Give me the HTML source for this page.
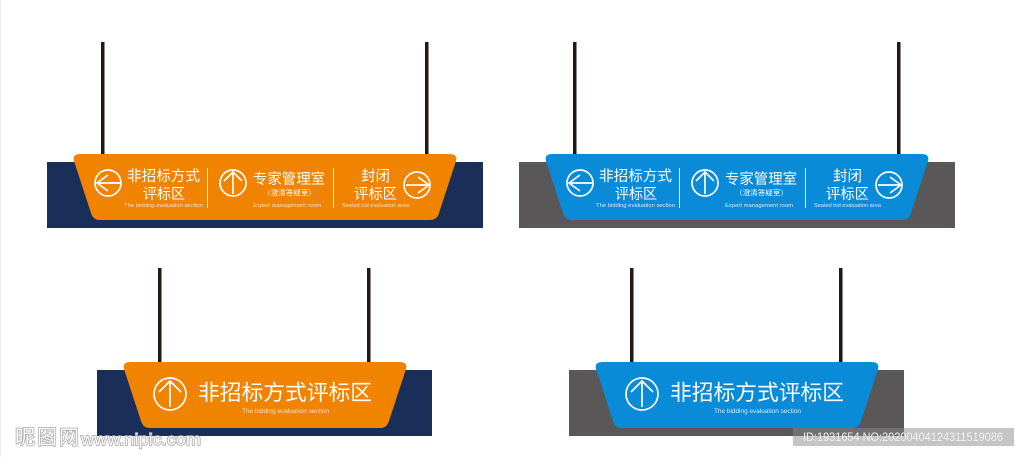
<!DOCTYPE html>
<html><head><meta charset="utf-8"><style>
html,body{margin:0;padding:0;background:#fff}
svg{display:block}
text{font-family:"Liberation Sans","Noto Sans CJK SC",sans-serif;fill:#fff}
.cn{font-family:"Noto Sans CJK SC","WenQuanYi Zen Hei",sans-serif;font-weight:400}
.en{fill:#fbe3c4}
.ic{fill:none;stroke:#fff;stroke-width:1.7}
.dv{stroke:#fff;stroke-width:1;opacity:.9}
</style></head><body>
<svg width="1024" height="457" viewBox="0 0 1024 457" xmlns="http://www.w3.org/2000/svg">
<rect x="0" y="0" width="1024" height="457" fill="#fff"/>
<rect x="0" y="0" width="1" height="457" fill="#ececec"/>

<!-- Sign 1 -->
<g>
<rect x="101" y="42" width="3.500" height="113" fill="#231815"/><rect x="425" y="42" width="3.500" height="113" fill="#231815"/>
<rect x="47" y="162" width="436" height="66" fill="#1a2e5a"/>
<path d="M81 154H449Q458 154 456 161L439 213Q437 220 430 220H100Q93 220 91 213L74 161Q72 154 81 154Z" fill="#f08300"/>
<circle class="ic" cx="108" cy="183" r="13"/><path class="ic" d="M97 183H120M108 175L97 183L108 191"/>
<text class="cn" x="127" y="181" font-size="14.500" textLength="73" lengthAdjust="spacingAndGlyphs">非招标方式</text>
<text class="cn" x="143" y="199" font-size="14.500" textLength="42" lengthAdjust="spacingAndGlyphs">评标区</text>
<text class="en" x="124" y="207" font-size="5" textLength="79" lengthAdjust="spacingAndGlyphs">The bidding evaluation section</text>
<line class="dv" x1="207.500" y1="168" x2="207.500" y2="208"/>
<circle class="ic" cx="233" cy="183" r="13"/><path class="ic" d="M233 194V172M224 181L233 172L242 181"/>
<text class="cn" x="253" y="184" font-size="14.500" textLength="72" lengthAdjust="spacingAndGlyphs">专家管理室</text>
<text class="cn" x="263" y="195" font-size="7" textLength="53" lengthAdjust="spacingAndGlyphs">（澄清答疑室）</text>
<text class="en" x="253" y="207" font-size="5" textLength="68" lengthAdjust="spacingAndGlyphs">Expert management room</text>
<line class="dv" x1="333.500" y1="168" x2="333.500" y2="208"/>
<text class="cn" x="361" y="181" font-size="14.500" textLength="29" lengthAdjust="spacingAndGlyphs">封闭</text>
<text class="cn" x="354" y="199" font-size="14.500" textLength="43" lengthAdjust="spacingAndGlyphs">评标区</text>
<text class="en" x="342" y="207" font-size="5" textLength="67" lengthAdjust="spacingAndGlyphs">Sealed bid evaluation area</text>
<circle class="ic" cx="417" cy="185" r="13"/><path class="ic" d="M406 185H429M418 177L429 185L418 193"/>
</g>

<!-- Sign 2 -->
<g>
<rect x="573" y="42" width="3.500" height="113" fill="#231815"/><rect x="897" y="42" width="3.500" height="113" fill="#231815"/>
<rect x="519" y="162" width="436" height="66" fill="#595757"/>
<path d="M553 154H921Q930 154 928 161L911 213Q909 220 902 220H572Q565 220 563 213L546 161Q544 154 553 154Z" fill="#0a8bd8"/>
<circle class="ic" cx="580" cy="183" r="13"/><path class="ic" d="M569 183H592M580 175L569 183L580 191"/>
<text class="cn" x="599" y="181" font-size="14.500" textLength="73" lengthAdjust="spacingAndGlyphs">非招标方式</text>
<text class="cn" x="615" y="199" font-size="14.500" textLength="42" lengthAdjust="spacingAndGlyphs">评标区</text>
<text x="596" y="207" font-size="5" style="fill:#d5ecfa" textLength="79" lengthAdjust="spacingAndGlyphs">The bidding evaluation section</text>
<line class="dv" x1="679.500" y1="168" x2="679.500" y2="208"/>
<circle class="ic" cx="705" cy="183" r="13"/><path class="ic" d="M705 194V172M696 181L705 172L714 181"/>
<text class="cn" x="725" y="184" font-size="14.500" textLength="72" lengthAdjust="spacingAndGlyphs">专家管理室</text>
<text class="cn" x="735" y="195" font-size="7" textLength="53" lengthAdjust="spacingAndGlyphs">（澄清答疑室）</text>
<text x="725" y="207" font-size="5" style="fill:#d5ecfa" textLength="68" lengthAdjust="spacingAndGlyphs">Expert management room</text>
<line class="dv" x1="805.500" y1="168" x2="805.500" y2="208"/>
<text class="cn" x="833" y="181" font-size="14.500" textLength="29" lengthAdjust="spacingAndGlyphs">封闭</text>
<text class="cn" x="826" y="199" font-size="14.500" textLength="43" lengthAdjust="spacingAndGlyphs">评标区</text>
<text x="814" y="207" font-size="5" style="fill:#d5ecfa" textLength="67" lengthAdjust="spacingAndGlyphs">Sealed bid evaluation area</text>
<circle class="ic" cx="889" cy="185" r="13"/><path class="ic" d="M878 185H901M890 177L901 185L890 193"/>
</g>

<!-- Sign 3 -->
<g>
<rect x="158" y="268" width="3.500" height="95" fill="#231815"/><rect x="367" y="268" width="3.500" height="95" fill="#231815"/>
<rect x="97" y="370" width="335" height="66" fill="#1a2e5a"/>
<path d="M131 362H399Q408 362 406 369L389 421Q387 428 380 428H150Q143 428 141 421L124 369Q122 362 131 362Z" fill="#f08300"/>
<circle class="ic" cx="170" cy="394" r="16"/><path class="ic" d="M170 407V381M159 392L170 381L181 392"/>
<text class="cn" x="198" y="400" font-size="21.700" textLength="174" lengthAdjust="spacingAndGlyphs">非招标方式评标区</text>
<text class="en" x="242" y="413" font-size="6" textLength="87" lengthAdjust="spacingAndGlyphs">The bidding evaluation section</text>
</g>

<!-- Sign 4 -->
<g>
<rect x="630" y="268" width="3.500" height="95" fill="#231815"/><rect x="839" y="268" width="3.500" height="95" fill="#231815"/>
<rect x="569" y="370" width="335" height="66" fill="#595757"/>
<path d="M603 362H871Q880 362 878 369L861 421Q859 428 852 428H622Q615 428 613 421L596 369Q594 362 603 362Z" fill="#0a8bd8"/>
<circle class="ic" cx="642" cy="394" r="16"/><path class="ic" d="M642 407V381M631 392L642 381L653 392"/>
<text class="cn" x="670" y="400" font-size="21.700" textLength="174" lengthAdjust="spacingAndGlyphs">非招标方式评标区</text>
<text x="714" y="413" font-size="6" style="fill:#d5ecfa" textLength="87" lengthAdjust="spacingAndGlyphs">The bidding evaluation section</text>
</g>

<!-- Watermarks -->
<g stroke="#a8a8a8" stroke-width="1.500">
<text class="cn" x="15" y="444" font-size="20" textLength="64" lengthAdjust="spacing" style="fill:#fff;paint-order:stroke">昵图网</text>
<text x="81" y="445" font-size="17" textLength="120" lengthAdjust="spacingAndGlyphs" style="fill:#fff;paint-order:stroke">www.nipic.com</text>
</g>
<rect x="793" y="428" width="221" height="18" fill="#8c8c8c" fill-opacity=".5"/>
<text x="803" y="441" font-size="11.500" textLength="200" lengthAdjust="spacingAndGlyphs" style="fill:#f0f0f0">ID:1931654 NO:20200404124311519086</text>
</svg>
</body></html>
